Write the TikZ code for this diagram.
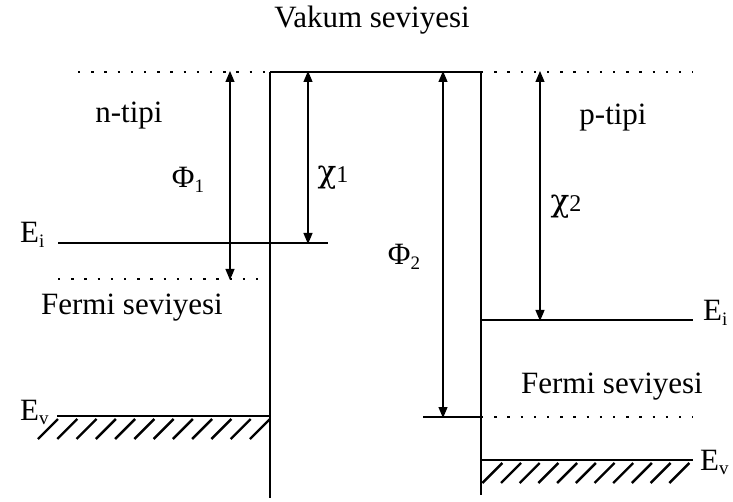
\documentclass[tikz,border=0pt]{standalone}
\usepackage{fontspec}
\setmainfont{Liberation Serif}
\newfontfamily\chifont{DejaVu Serif}
\usetikzlibrary{arrows.meta}
\newcommand\lowsub[1]{\raisebox{-0.3ex}{\fontsize{19}{19}\selectfont #1}}
\newcommand\chisym[1]{{\chifont\fontsize{31}{31}\selectfont χ}{\fontsize{24}{24}\selectfont #1}}
\tikzset{
  lvl/.style={line width=1.6pt},
  wall/.style={line width=1.8pt},
  dotlvl/.style={line width=2.4pt, dash pattern=on 2.4pt off 10.8pt},
  dim/.style={line width=1.2pt, {Triangle[length=11pt,width=9pt]}-{Triangle[length=11pt,width=9pt]}, shorten <=-1pt, shorten >=-1pt},
  hatch/.style={line width=2.4pt},
  lbl/.style={inner sep=0pt, anchor=base, font=\fontsize{31}{37}\selectfont},
}
\begin{document}
\begin{tikzpicture}[x=1pt,y=-1pt]
\useasboundingbox (0,0) rectangle (733,502);
% coordinates
\coordinate (vl0) at (78,72);
\coordinate (vtl) at (270,72);
\coordinate (vtr) at (481,72);
\coordinate (vr1) at (693,72);
\coordinate (wlb) at (270,498);
\coordinate (wrb) at (481,495);
\coordinate (eil0) at (58,243);
\coordinate (eil1) at (328,243);
\coordinate (fl0) at (58,279);
\coordinate (fl1) at (270,279);
\coordinate (evl0) at (57,416);
\coordinate (evl1) at (270,416);
\coordinate (eir0) at (481,320);
\coordinate (eir1) at (693,320);
\coordinate (fr0) at (423,417);
\coordinate (fr1) at (481,417);
\coordinate (fr2) at (693,417);
\coordinate (evr0) at (481,460);
\coordinate (evr1) at (693,460);
% arrow end points
\coordinate (p1t) at (230,72);
\coordinate (p1b) at (230,279);
\coordinate (c1t) at (308,72);
\coordinate (c1b) at (308,243);
\coordinate (p2t) at (443,72);
\coordinate (p2b) at (443,417);
\coordinate (c2t) at (540,72);
\coordinate (c2b) at (540,320);
% levels
\draw[dotlvl] (vl0) -- (vtl);
\draw[lvl] (vtl) -- (vtr);
\draw[dotlvl] (vtr) -- (vr1);
\draw[wall] (vtl) -- (wlb);
\draw[wall] (vtr) -- (wrb);
\draw[lvl] (eil0) -- (eil1);
\draw[dotlvl] (fl0) -- (fl1);
\draw[lvl] (evl0) -- (evl1);
\draw[lvl] (eir0) -- (eir1);
\draw[lvl] (fr0) -- (fr1);
\draw[dotlvl] (fr1) -- (fr2);
\draw[lvl] (evr0) -- (evr1);
% hatching
\foreach \i in {0,...,11}{
  \draw[hatch] ({38+19.27*\i},439) -- ({58+19.27*\i},419);
}
\begin{scope}
\clip (481.5,455) rectangle (700,490);
\foreach \i in {-1,...,9}{
  \draw[hatch] ({501+18.7*\i},483) -- ({521+18.7*\i},463);
}
\end{scope}
% dimension arrows
\draw[dim] (p1t) -- (p1b);
\draw[dim] (c1t) -- (c1b);
\draw[dim] (p2t) -- (p2b);
\draw[dim] (c2t) -- (c2b);
% labels
\node[lbl] (vak) at (372,28) {Vakum seviyesi};
\node[lbl] (nt) at (129,123) {n-tipi};
\node[lbl] (pt) at (613,125) {p-tipi};
\node[lbl] (phi1) at (188,188) {Φ\lowsub{1}};
\node[lbl] (chi1) at (333,183) {\chisym{1}};
\node[lbl] (chi2) at (566,212) {\chisym{2}};
\node[lbl] (phi2) at (404,265) {Φ\lowsub{2}};
\node[lbl, anchor=base west] (eil) at (20,243) {E\lowsub{i}};
\node[lbl, anchor=base west] (evl) at (20,420) {E\lowsub{v}};
\node[lbl, anchor=base west] (eir) at (703,321) {E\lowsub{i}};
\node[lbl, anchor=base west] (evr) at (700,470) {E\lowsub{v}};
\node[lbl] (fsl) at (132,315) {Fermi seviyesi};
\node[lbl] (fsr) at (612,393) {Fermi seviyesi};
\end{tikzpicture}
\end{document}
